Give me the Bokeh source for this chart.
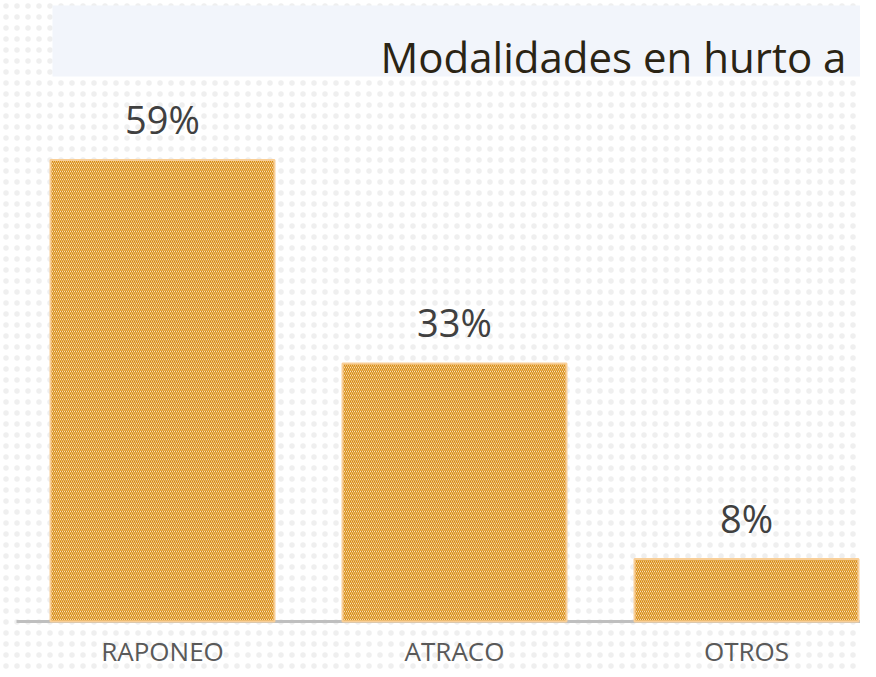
from bokeh.plotting import figure
from bokeh.models import Range1d, BoxAnnotation, Label, ColumnDataSource
from bokeh.core.properties import value
from bokeh.embed import file_html
from bokeh.resources import INLINE

categories = ["RAPONEO", "ATRACO", "OTROS"]
values = [59, 33, 8]
title_text = "Modalidades en hurto a personas"

xs = list(range(len(categories)))
labels = [f"{v}%" for v in values]

src = ColumnDataSource(dict(x=xs, top=values, cat=categories, lab=labels,
                            zero=[0] * len(values)))

W, H = 860, 669
p = figure(width=W, height=H, output_backend="svg", toolbar_location=None,
           x_range=Range1d(-0.5548, 2.3904), y_range=Range1d(-6.14, 79.41),
           min_border=0, min_border_left=0, min_border_right=0,
           min_border_top=0, min_border_bottom=0)
p.axis.visible = False
p.grid.visible = False
p.outline_line_color = None
p.background_fill_color = "white"
p.border_fill_color = "white"

FONT = "Open Sans"

# faint dotted background
dots = BoxAnnotation(fill_alpha=0, line_color=None, hatch_pattern="dot",
                     hatch_color="#efefef", hatch_scale=11, hatch_weight=1.2,
                     level="underlay")
p.add_layout(dots)

# title band
band = BoxAnnotation(left=52, right=W + 20, top=H - 5, bottom=H - 76,
                     left_units="screen", right_units="screen",
                     top_units="screen", bottom_units="screen",
                     fill_color="#f2f5fb", fill_alpha=1, line_color=None,
                     level="underlay")
p.add_layout(band)

p.add_layout(Label(x=380, y=H - 56, x_units="screen", y_units="screen",
                   text=title_text, text_font=FONT, text_font_size="42px",
                   text_color="#2b2414", text_baseline="alphabetic",
                   text_align="left"))

# baseline
p.segment(x0=-0.5, x1=len(categories) - 0.5, y0=0, y1=0,
          line_color="#bfbfbf", line_width=3)

# bars
p.vbar(x="x", top="top", bottom=0, width=0.767, source=src,
       fill_color="white", line_color="#f9cf98", line_width=2,
       hatch_pattern="\\", hatch_color="#d98a0c", hatch_scale=4,
       hatch_weight=1.4)

# value labels
p.text(x="x", y="top", text="lab", source=src, text_font=value(FONT),
       text_font_size="38px", text_color="#404040", text_align="center",
       text_baseline="middle", y_offset=-41)

# category labels
p.text(x="x", y="zero", text="cat", source=src, text_font=value(FONT),
       text_font_size="26px", text_color="#595959", text_align="center",
       text_baseline="middle", y_offset=30)

open("out.html", "w").write(file_html(p, INLINE))
